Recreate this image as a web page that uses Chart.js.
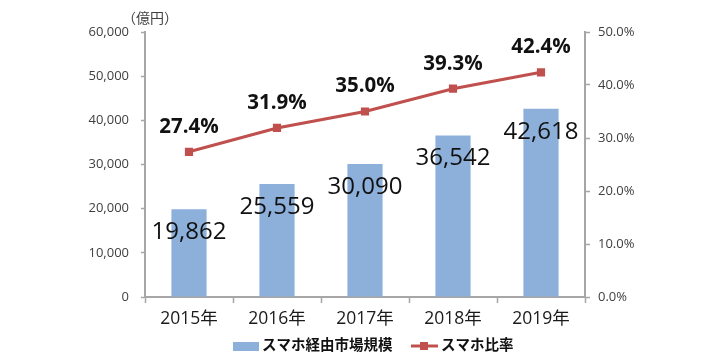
<!DOCTYPE html>
<html><head><meta charset="utf-8">
<script src="https://cdn.jsdelivr.net/npm/chart.js@4/dist/chart.umd.min.js"></script>
<style>html,body{margin:0;padding:0;background:#fff}#wrap{width:720px;height:360px}</style>
</head><body><div id="wrap"><canvas id="c" width="720" height="360"></canvas></div>
<script>
const categories = ['2015年','2016年','2017年','2018年','2019年'];
const marketSize = [19862, 25559, 30090, 36542, 42618];
const smartphoneRatio = [27.4, 31.9, 35.0, 39.3, 42.4];
const leftTicks = [0, 10000, 20000, 30000, 40000, 50000, 60000];
const rightTicks = [0, 10, 20, 30, 40, 50];
const seriesNames = ['スマホ経由市場規模', 'スマホ比率'];
const unitLabel = '（億円）';

const FONT = "'Open Sans','Noto Sans CJK JP',sans-serif";
const BLUE = '#8DB0DB';
const RED = '#C0504D';
const AXIS = '#A6A6A6';

const labelPlugin = {
  id: 'labels',
  afterDatasetsDraw(chart) {
    const ctx = chart.ctx;
    ctx.save();
    ctx.textAlign = 'center';
    ctx.textBaseline = 'middle';
    const barMeta = chart.getDatasetMeta(0);
    ctx.font = "24px " + FONT;
    ctx.fillStyle = '#111';
    barMeta.data.forEach((el, i) => {
      ctx.fillText(marketSize[i].toLocaleString('en-US'), el.x, el.y + 23);
    });
    const lineMeta = chart.getDatasetMeta(1);
    ctx.font = "bold 20.5px " + FONT;
    lineMeta.data.forEach((el, i) => {
      ctx.fillText(smartphoneRatio[i].toFixed(1) + '%', el.x, el.y - 25);
    });
    ctx.font = "14px " + FONT;
    ctx.fillStyle = '#404040';
    ctx.fillText(unitLabel, chart.chartArea.left + 5, 19);
    const ly = 346;
    ctx.textAlign = 'left';
    ctx.font = "bold 14.5px " + FONT;
    ctx.fillStyle = BLUE;
    ctx.fillRect(233, ly - 4, 26, 9);
    ctx.fillStyle = '#111';
    ctx.fillText(seriesNames[0], 262, ly);
    ctx.strokeStyle = RED;
    ctx.lineWidth = 3;
    ctx.beginPath(); ctx.moveTo(411, ly); ctx.lineTo(438, ly); ctx.stroke();
    ctx.fillStyle = RED;
    ctx.fillRect(420, ly - 4, 8, 8);
    ctx.fillStyle = '#111';
    ctx.fillText(seriesNames[1], 441, ly);
    ctx.restore();
  }
};

new Chart(document.getElementById('c'), {
  type: 'bar',
  data: {
    labels: categories,
    datasets: [
      { type: 'bar', label: seriesNames[0], data: marketSize, backgroundColor: BLUE,
        yAxisID: 'y', categoryPercentage: 1.0, barPercentage: 0.4, order: 2 },
      { type: 'line', label: seriesNames[1], data: smartphoneRatio, borderColor: RED,
        backgroundColor: RED, borderWidth: 3, pointStyle: 'rect', pointRadius: 5.8,
        pointBackgroundColor: RED, pointBorderColor: RED, pointBorderWidth: 0,
        yAxisID: 'y1', tension: 0, order: 1 }
    ]
  },
  options: {
    responsive: false,
    animation: false,
    layout: { padding: { top: 32, left: 0, right: 0, bottom: 0 } },
    plugins: { legend: { display: false }, tooltip: { enabled: false } },
    scales: {
      x: {
        offset: true,
        grid: { display: true, drawOnChartArea: false, offset: true, color: AXIS, tickLength: 6, tickWidth: 1.5 },
        border: { color: AXIS, width: 2 },
        ticks: { font: { size: 17.5, family: FONT }, color: '#1a1a1a', padding: 6 },
        afterFit: s => { s.height = 63; }
      },
      y: {
        position: 'left', min: 0, max: 60000,
        afterBuildTicks: s => { s.ticks = leftTicks.map(v => ({ value: v })); },
        grid: { display: true, drawOnChartArea: false, color: AXIS, tickLength: 4, tickWidth: 1.5 },
        border: { color: AXIS, width: 2 },
        ticks: { font: { size: 13, family: FONT }, color: '#404040', padding: 12,
          callback: v => v.toLocaleString('en-US') },
        afterFit: s => { s.width = 145; }
      },
      y1: {
        position: 'right', min: 0, max: 50,
        afterBuildTicks: s => { s.ticks = rightTicks.map(v => ({ value: v })); },
        grid: { display: true, drawOnChartArea: false, color: AXIS, tickLength: 5, tickWidth: 1.5 },
        border: { color: AXIS, width: 2 },
        ticks: { font: { size: 13, family: FONT }, color: '#404040', padding: 8,
          callback: v => v.toFixed(1) + '%' },
        afterFit: s => { s.width = 135; }
      }
    }
  },
  plugins: [labelPlugin]
});
</script></body></html>
